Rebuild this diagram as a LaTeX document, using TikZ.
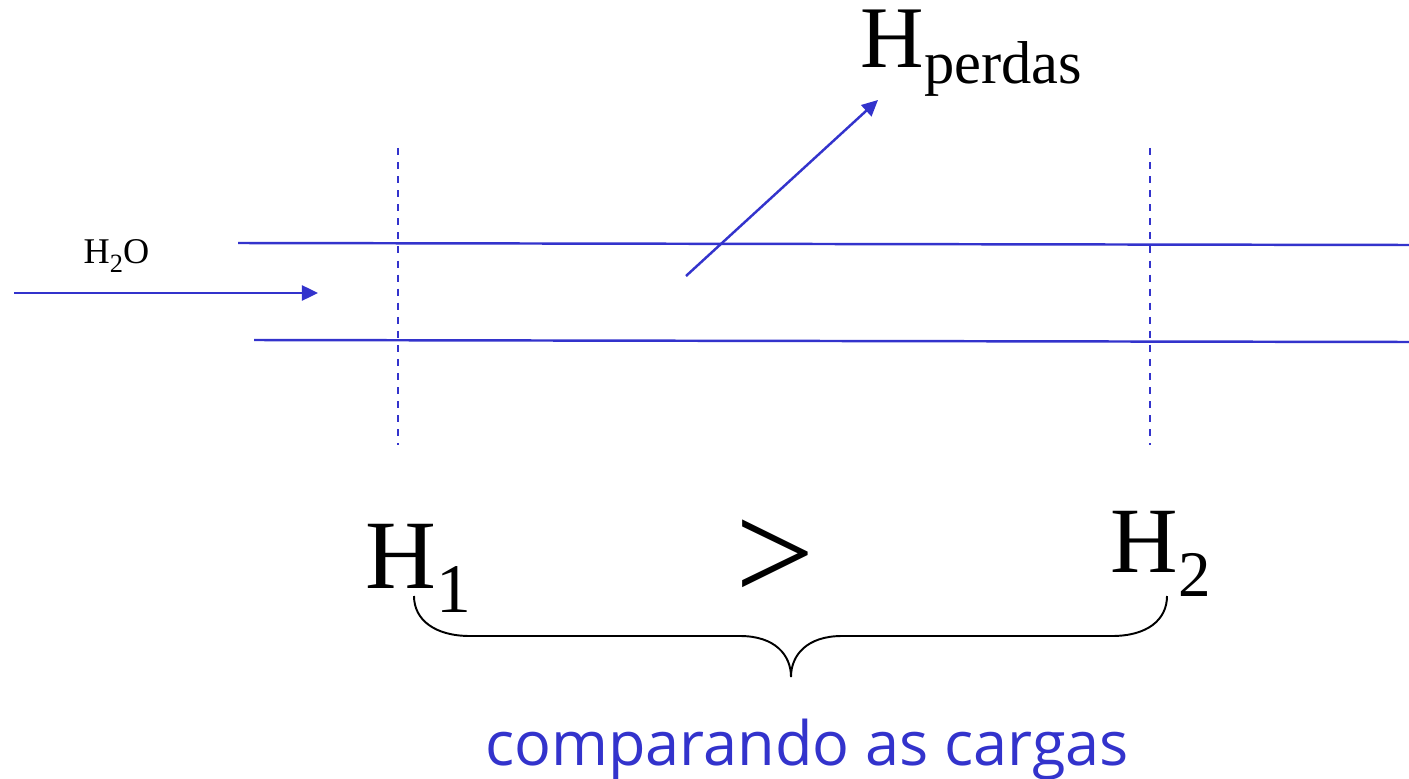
\documentclass[tikz,border=0pt]{standalone}
\usepackage{fontspec}
\setmainfont{Liberation Serif}
\newfontfamily\cargafont{Open Sans}
\usetikzlibrary{arrows.meta}
\definecolor{tubo}{HTML}{3333CC}
\tikzset{
  >={Triangle[length=1.6mm,width=1.5mm]},
  % tubo
  parede/.style={draw=tubo,line width=0.7pt},
  secao/.style={draw=tubo,line width=0.7pt,dash pattern=on 2pt off 2pt},
  fluxo/.style={->,draw=tubo,line width=0.7pt},
  % textos
  carga/.style={anchor=base west,inner sep=0pt,text=black},
  chave/.style={draw=black,line width=0.55pt},
}
\newcommand{\cargaH}[4]{{\fontsize{#1}{#1}\selectfont H}\raisebox{-#3}{\fontsize{#2}{#2}\selectfont #4}}

\begin{document}
\begin{tikzpicture}[x=0.01cm,y=-0.01cm]
  \useasboundingbox (0,0) rectangle (1409,779);
  % paredes do tubo
  \draw[parede] (238,243) -- (1409,245);
  \draw[parede] (254,340) -- (1409,342);
  % secoes 1 e 2
  \draw[secao] (398,148) -- (398,445);
  \draw[secao] (1150,148) -- (1150,445);
  % entrada
  \node[carga,font=\fontsize{10.3}{12}\selectfont] (agua) at (83,263)
    {H\raisebox{-0.09cm}{\fontsize{7.5}{8}\selectfont 2}O};
  \coordinate (e0) at (14,293);
  \coordinate (e1) at (318,293);
  \draw[fluxo] (e0) -- (e1);
  % perdas
  \node[carga] (hp) at (860,68) {\cargaH{25}{17.2}{0.15cm}{perdas}};
  \coordinate (p0) at (686,276);
  \coordinate (p1) at (878,100);
  \draw[fluxo] (p0) -- (p1);
  % comparacao
  \node[carga] (h1) at (365,588) {\cargaH{27.9}{19.8}{0.24cm}{1}};
  \node[carga,anchor=base] (maior) at (775,600) {\fontsize{40}{40}\selectfont >};
  \node[carga] (h2) at (1110,572) {\cargaH{26.6}{18.5}{0.24cm}{2}};
  \coordinate (b1) at (414,596);
  \coordinate (b2) at (1167,596);
  \draw[chave] (b1) .. controls (414,620) and (435,636) .. (470,636) -- (740,636)
    .. controls (775,636) and (791,655) .. (791,677)
    .. controls (791,655) and (807,636) .. (842,636) -- (1112,636)
    .. controls (1147,636) and (1167,620) .. (b2);
  \node[anchor=base,inner sep=0pt,text=tubo,font=\cargafont\fontsize{17.4}{20}\selectfont]
    (cmp) at (807,765) {comparando as cargas};
\end{tikzpicture}
\end{document}
